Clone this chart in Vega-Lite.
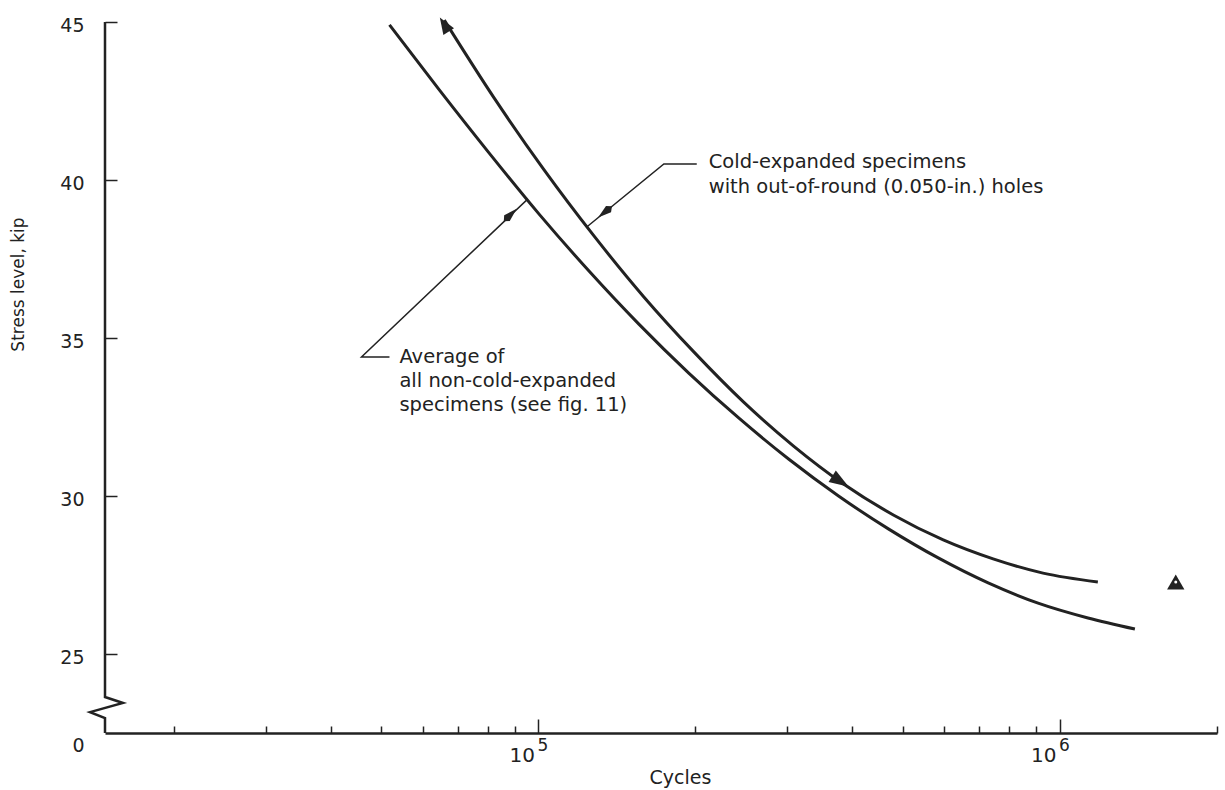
{
  "$schema": "https://vega.github.io/schema/vega-lite/v6.json",
  "width": 1112,
  "height": 711,
  "autosize": {"type": "none"},
  "padding": {"left": 105, "top": 22, "right": 8, "bottom": 57},
  "background": "white",
  "config": {"view": {"stroke": null}, "font": "DejaVu Sans", "axis": {"grid": false}},
  "datasets": {
    "axisline": [
      {"i": 1, "cycles": 14760, "stress": 45},
      {"i": 2, "cycles": 14760, "stress": 23.64},
      {"i": 3, "cycles": 15976, "stress": 23.45},
      {"i": 4, "cycles": 13817, "stress": 23.16},
      {"i": 5, "cycles": 14760, "stress": 22.97},
      {"i": 6, "cycles": 14760, "stress": 22.5}
    ],
    "curves": [
      {"series": "avg", "cycles": 51820, "stress": 44.91},
      {"series": "avg", "cycles": 64570, "stress": 42.85},
      {"series": "avg", "cycles": 80480, "stress": 40.85},
      {"series": "avg", "cycles": 100310, "stress": 38.92},
      {"series": "avg", "cycles": 125030, "stress": 37.12},
      {"series": "avg", "cycles": 155830, "stress": 35.44},
      {"series": "avg", "cycles": 194210, "stress": 33.89},
      {"series": "avg", "cycles": 242100, "stress": 32.47},
      {"series": "avg", "cycles": 301770, "stress": 31.17},
      {"series": "avg", "cycles": 376200, "stress": 30.00},
      {"series": "avg", "cycles": 468800, "stress": 28.96},
      {"series": "avg", "cycles": 584200, "stress": 28.04},
      {"series": "avg", "cycles": 728300, "stress": 27.25},
      {"series": "avg", "cycles": 907800, "stress": 26.61},
      {"series": "avg", "cycles": 1131600, "stress": 26.14},
      {"series": "avg", "cycles": 1392000, "stress": 25.79},
      {"series": "ce", "cycles": 66000, "stress": 45.06},
      {"series": "ce", "cycles": 82290, "stress": 42.59},
      {"series": "ce", "cycles": 102540, "stress": 40.32},
      {"series": "ce", "cycles": 127800, "stress": 38.23},
      {"series": "ce", "cycles": 159300, "stress": 36.30},
      {"series": "ce", "cycles": 198600, "stress": 34.56},
      {"series": "ce", "cycles": 247500, "stress": 32.97},
      {"series": "ce", "cycles": 308500, "stress": 31.58},
      {"series": "ce", "cycles": 384600, "stress": 30.38},
      {"series": "ce", "cycles": 479200, "stress": 29.40},
      {"series": "ce", "cycles": 597300, "stress": 28.61},
      {"series": "ce", "cycles": 744400, "stress": 28.01},
      {"series": "ce", "cycles": 927900, "stress": 27.56},
      {"series": "ce", "cycles": 1182000, "stress": 27.28}
    ],
    "leaders": [
      {"leader": "avg", "i": 1, "cycles": 51820, "stress": 34.40},
      {"leader": "avg", "i": 2, "cycles": 45800, "stress": 34.40},
      {"leader": "avg", "i": 3, "cycles": 95150, "stress": 39.38},
      {"leader": "ce", "i": 1, "cycles": 201200, "stress": 40.51},
      {"leader": "ce", "i": 2, "cycles": 174000, "stress": 40.51},
      {"leader": "ce", "i": 3, "cycles": 123950, "stress": 38.52}
    ],
    "arrows": [
      {"name": "ceTop", "cycles": 66000, "stress": 44.92},
      {"name": "ceMid", "cycles": 379400, "stress": 30.46},
      {"name": "avgLeader", "cycles": 88300, "stress": 38.89},
      {"name": "ceLeader", "cycles": 134200, "stress": 38.99}
    ],
    "points": [
      {"cycles": 1667000, "stress": 27.28}
    ],
    "notes": [
      {"cycles": 212100, "stress": 40.57, "text": "Cold-expanded specimens"},
      {"cycles": 212100, "stress": 39.78, "text": "with out-of-round (0.050-in.) holes"},
      {"cycles": 54140, "stress": 34.40, "text": "Average of"},
      {"cycles": 54140, "stress": 33.64, "text": "all non-cold-expanded"},
      {"cycles": 54140, "stress": 32.88, "text": "specimens (see fig. 11)"}
    ],
    "exps": [
      {"cycles": 100000, "stress": 22.5, "text": "5"},
      {"cycles": 1000000, "stress": 22.5, "text": "6"}
    ]
  },
  "encoding": {
    "x": {
      "field": "cycles",
      "type": "quantitative",
      "scale": {"type": "log", "domain": [14760, 2000000], "nice": false},
      "axis": {
        "title": "Cycles",
        "titleFont": "DejaVu Sans",
        "titleFontSize": 19,
        "titleFontWeight": "normal",
        "titleColor": "#222",
        "titleX": 575,
        "titleY": 44,
        "titleAlign": "center",
        "titleBaseline": "middle",
        "values": [20000, 30000, 40000, 50000, 60000, 70000, 80000, 90000, 100000, 200000, 300000, 400000, 500000, 600000, 700000, 800000, 900000, 1000000, 2000000],
        "labelExpr": "datum.value==100000||datum.value==1000000?'10':''",
        "labelFont": "DejaVu Sans",
        "labelFontSize": 20,
        "labelColor": "#222",
        "labelAlign": "right",
        "labelBaseline": "top",
        "labelPadding": 26,
        "labelOffset": -4,
        "labelOverlap": false,
        "labelFlush": false,
        "labelBound": false,
        "tickSize": {"condition": {"test": "datum.value==100000||datum.value==1000000", "value": -14}, "value": -7},
        "tickWidth": 1.5,
        "tickColor": "#222",
        "domainColor": "#222",
        "domainWidth": 2.5
      }
    },
    "y": {
      "field": "stress",
      "type": "quantitative",
      "scale": {"domain": [22.5, 45], "zero": false, "nice": false},
      "axis": {
        "title": "Stress level, kip",
        "titleFont": "DejaVu Sans",
        "titleFontSize": 17,
        "titleFontWeight": "normal",
        "titleColor": "#222",
        "titleX": -87,
        "titleY": 262,
        "titleAlign": "center",
        "titleBaseline": "middle",
        "values": [22.5, 25, 30, 35, 40, 45],
        "labelExpr": "datum.value<24?'0':datum.label",
        "domain": false,
        "labelFont": "DejaVu Sans",
        "labelFontSize": 19,
        "labelColor": "#222",
        "labelPadding": 33,
        "labelOverlap": false,
        "labelOffset": {"condition": {"test": "datum.value<24", "value": 12}, "value": 3},
        "tickSize": -12,
        "tickOpacity": {"condition": {"test": "datum.value<24", "value": 0}, "value": 1},
        "tickWidth": 1.5,
        "tickColor": "#222"
      }
    }
  },
  "layer": [
    {
      "data": {"name": "axisline"},
      "mark": {"type": "line", "color": "#222", "strokeWidth": 2.5, "clip": false},
      "encoding": {"order": {"field": "i", "type": "quantitative"}}
    },
    {
      "data": {"name": "curves"},
      "mark": {"type": "line", "color": "#222", "strokeWidth": 3, "interpolate": "monotone"},
      "encoding": {"detail": {"field": "series", "type": "nominal"}}
    },
    {
      "data": {"name": "leaders"},
      "mark": {"type": "line", "color": "#222", "strokeWidth": 1.5},
      "encoding": {"detail": {"field": "leader", "type": "nominal"}, "order": {"field": "i", "type": "quantitative"}}
    },
    {
      "data": {"name": "arrows"},
      "transform": [{"filter": "datum.name=='ceTop'"}],
      "mark": {"type": "point", "shape": "M0,-1L0.75,1L-0.75,1Z", "size": 280, "filled": true, "opacity": 1, "color": "#222", "angle": -32}
    },
    {
      "data": {"name": "arrows"},
      "transform": [{"filter": "datum.name=='ceMid'"}],
      "mark": {"type": "point", "shape": "M0,-1L0.7,1L-0.7,1Z", "size": 380, "filled": true, "opacity": 1, "color": "#222", "angle": 122}
    },
    {
      "data": {"name": "arrows"},
      "transform": [{"filter": "datum.name=='avgLeader'"}],
      "mark": {"type": "point", "shape": "M0,-1L0.45,0.5L0,1L-0.45,0.5Z", "size": 320, "filled": true, "opacity": 1, "color": "#222", "angle": 46}
    },
    {
      "data": {"name": "arrows"},
      "transform": [{"filter": "datum.name=='ceLeader'"}],
      "mark": {"type": "point", "shape": "M0,-1L0.45,0.5L0,1L-0.45,0.5Z", "size": 320, "filled": true, "opacity": 1, "color": "#222", "angle": -129}
    },
    {
      "data": {"name": "points"},
      "mark": {"type": "point", "shape": "triangle-up", "size": 300, "filled": true, "opacity": 1, "color": "#222"}
    },
    {
      "data": {"name": "points"},
      "mark": {"type": "point", "shape": "circle", "size": 9, "filled": true, "opacity": 1, "color": "white", "dy": 2}
    },
    {
      "data": {"name": "notes"},
      "mark": {"type": "text", "align": "left", "baseline": "middle", "font": "DejaVu Sans", "fontSize": 19.5, "color": "#222"},
      "encoding": {"text": {"field": "text", "type": "nominal"}}
    },
    {
      "data": {"name": "exps"},
      "mark": {"type": "text", "align": "left", "baseline": "top", "font": "DejaVu Sans", "fontSize": 17, "color": "#222", "dx": -1, "dy": 5},
      "encoding": {"text": {"field": "text", "type": "nominal"}}
    }
  ]
}
